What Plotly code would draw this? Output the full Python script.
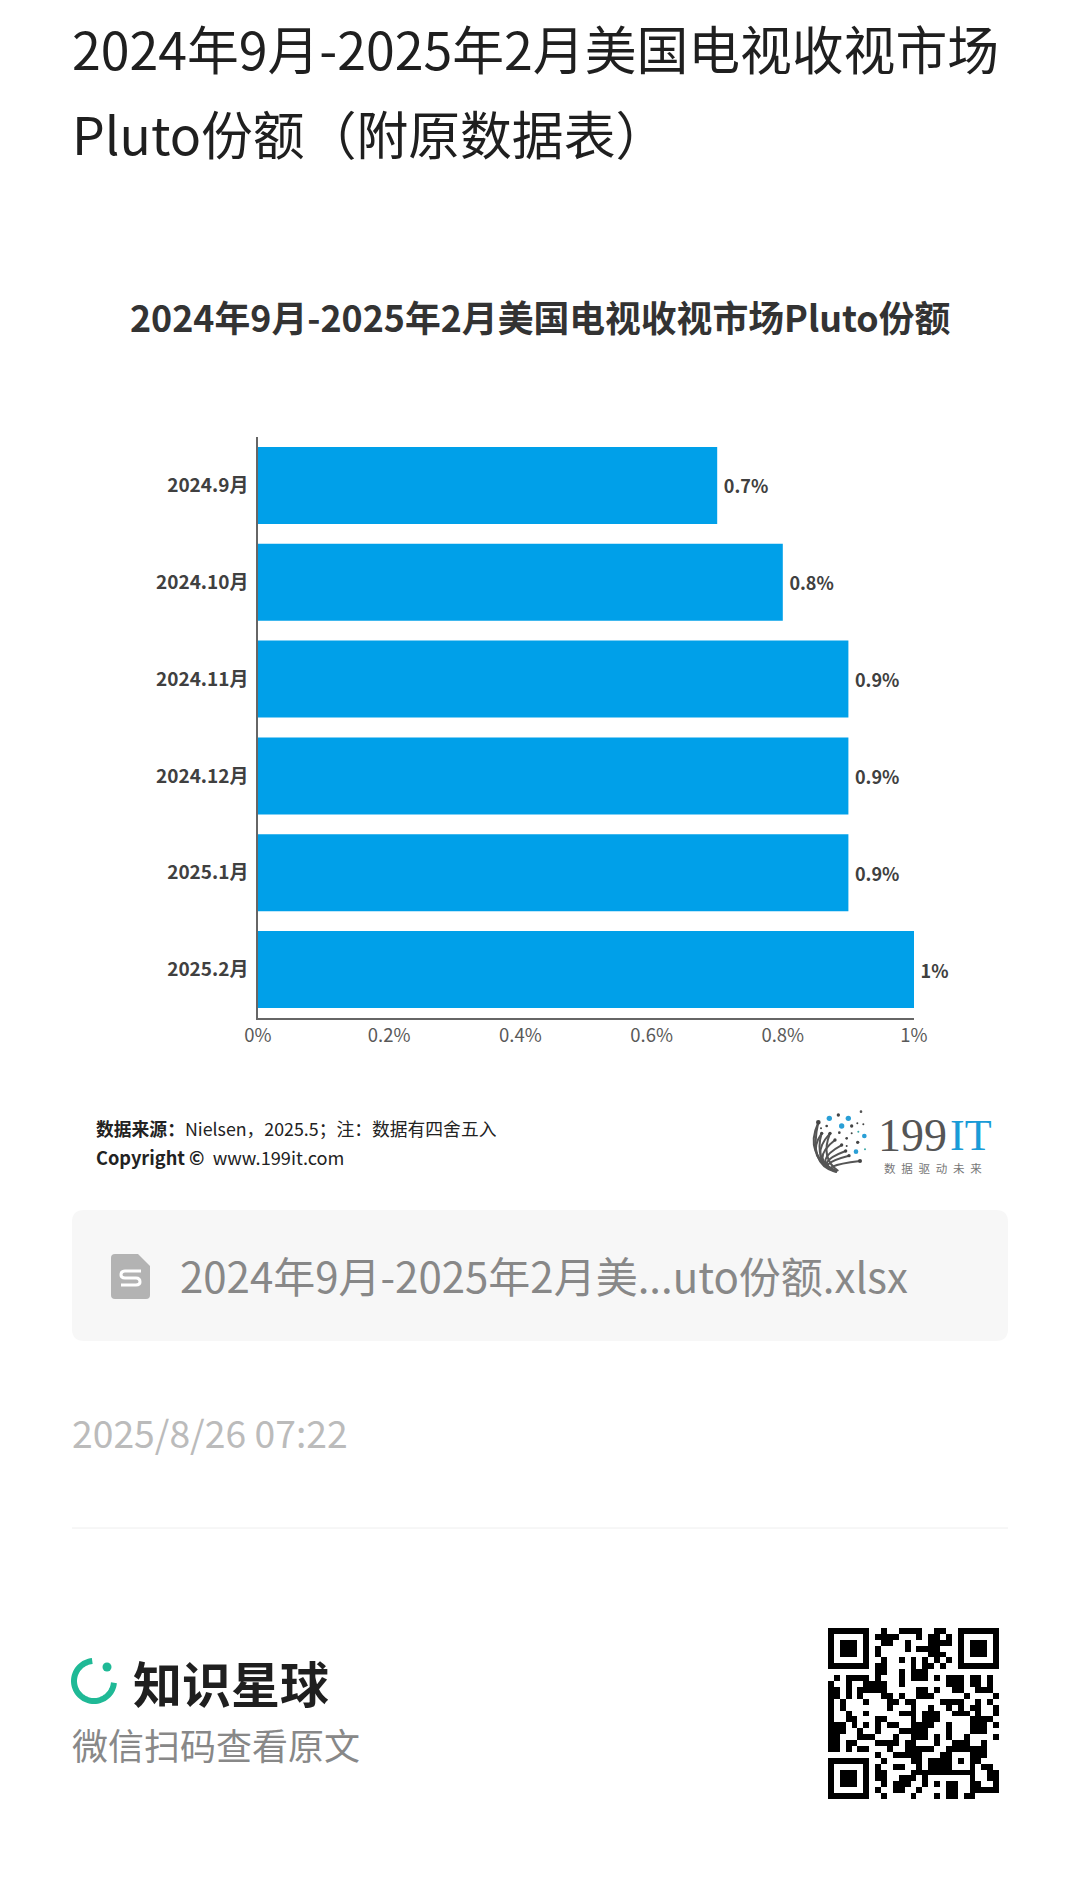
import math

import plotly.graph_objects as go

months = ['2024.9月', '2024.10月', '2024.11月', '2024.12月', '2025.1月', '2025.2月']
share = [0.7, 0.8, 0.9, 0.9, 0.9, 1]
x_ticks = [0, 0.2, 0.4, 0.6, 0.8, 1]
x_ticklabels = ['0%', '0.2%', '0.4%', '0.6%', '0.8%', '1%']
bar_labels = ['\u20090.7%', '\u20090.8%', '\u20090.9%', '\u20090.9%', '\u20090.9%', '\u20091%']

# QR code
qr_rows = [
    '11111110010011110011001111111',
    '10000010111100010110101000001',
    '1011101' + '001100100011110' + '1011101',
    '1011101' + '010000101111000' + '1011101',
    '1011101' + '010000000011100' + '1011101',
    '1000001' + '001001010101010' + '1000001',
    '1111111' + '011000010110100' + '1111111',
    '00000000110010111000000000000',
    '01011110100010111010111011010',
    '10010011110010000000111011010',
    '11010111110000011010011001110',
    '11010100011010011100000100001',
    '10100010001101100001111001010',
    '10100000001000100100101011001',
    '10010010000011101110011101001',
    '10011000110000101110000011110',
    '11101010101100111100100011101',
    '11100100100011111000100011100',
    '11000111000100111010100100001',
    '11011000111101100010011100100',
    '11010110001001111100111111100',
    '00000000100111110001100011100',
    '11111110010000110111101011000',
    '10000010100110010111100010110',
    '10111010110000111111111110011',
    '10111010110011101000000010011',
    '10111010010111001010110011001',
    '10000010100110010000110011111',
    '11111110010000100010110110000',
]
qr_matrix = [[int(c) for c in row] for row in qr_rows]

logo_dots = [
    (148, 85, 8, '#2a9fd6'), (175, 75, 5, '#444444'), (205, 85, 8, '#2a9fd6'), (243, 65, 4, '#555555'),
    (115, 97, 7, '#444444'), (140, 108, 4, '#444444'), (185, 108, 8, '#2a9fd6'), (215, 108, 5, '#444444'),
    (232, 100, 3, '#444444'), (250, 103, 3, '#444444'), (123, 115, 3, '#444444'), (178, 128, 4, '#444444'),
    (215, 130, 3, '#444444'), (235, 125, 3, '#3aa9a9'), (253, 138, 7, '#2a9fd6'), (200, 145, 4, '#444444'),
    (233, 157, 5, '#444444'), (200, 168, 3, '#444444'), (228, 185, 7, '#2a9fd6'), (255, 178, 3, '#3aa9a9'),
    (240, 213, 6, '#444444'), (125, 130, 5, '#444444'), (150, 130, 5, '#444444'), (165, 150, 5, '#444444'),
    (185, 165, 5, '#444444'), (197, 183, 5, '#444444'), (207, 197, 5, '#444444'),
]
logo_fronds = [(115, 97), (125, 130), (150, 130), (165, 150), (185, 165), (197, 183), (207, 197), (240, 213)]
# outer edge of the fan: start, control and end in the same crop
logo_edge = [
    (165, 245, 85, 225, 115, 97),
    (170, 245, 100, 215, 125, 130),
    (175, 243, 120, 205, 150, 130),
]

FONT = 'Noto Sans CJK SC'
W, H = 1080, 1898


def px(x):
    return x / W


def py(y):
    return 1 - y / H


def path(cmds):
    # cmds like [('M', 10, 20), ('Q', 1, 2, 3, 4)] in page pixels
    out = ''
    for c in cmds:
        out += c[0]
        vals = c[1:]
        out += ' '.join(f'{px(vals[i]):.5f},{py(vals[i + 1]):.5f}' for i in range(0, len(vals), 2))
    return out


def label(text, x, y, size, color, anchor='left', weight=None, family=FONT):
    font = dict(family=family, size=size, color=color)
    if weight:
        font['weight'] = weight
    return dict(text=text, x=px(x), y=py(y), xref='paper', yref='paper', showarrow=False,
                xanchor=anchor, yanchor='middle', font=font, align=anchor)


fig = go.Figure()

fig.add_trace(go.Bar(
    x=share, y=months,
    orientation='h',
    marker=dict(color='#00a0e9', line=dict(width=0)),
    text=bar_labels,
    textposition='outside',
    textfont=dict(family=FONT, size=18, color='#404040', weight=700),
    cliponaxis=False,
    hoverinfo='skip',
))

fig.add_trace(go.Heatmap(
    z=qr_matrix,
    xaxis='x2', yaxis='y2',
    colorscale=[[0, '#ffffff'], [1, '#000000']],
    zmin=0, zmax=1,
    showscale=False,
    hoverinfo='skip',
))

annotations = [
    label('2024年9月-2025年2月美国电视收视市场', 70, 47, 51.8, '#1f1f1f'),
    label('Pluto份额（附原数据表）', 70, 132, 51.8, '#1f1f1f'),
    label('2024年9月-2025年2月美国电视收视市场Pluto份额', 540, 316, 35.8, '#333333', anchor='center', weight=700),
    label('<b>数据来源：</b>Nielsen，2025.5；注：数据有四舍五入', 94, 1128, 17.8, '#222222'),
    label('<b>Copyright ©</b>  www.199it.com', 94, 1157, 18.2, '#222222'),
    label('199', 876, 1135, 46, '#555555', family='Liberation Serif'),
    label('IT', 948, 1135, 44, '#1a9bd7', family='Liberation Serif'),
    label('数\u2002据\u2002驱\u2002动\u2002未\u2002来', 882, 1168, 11.5, '#777777'),
    label('2024年9月-2025年2月美...uto份额.xlsx', 178, 1274, 42, '#888888'),
    label('2025/8/26 07:22', 70, 1432, 37.3, '#bbbbbb'),
    label('知识星球', 131, 1681, 49, '#1f1f1f', weight=700),
    label('微信扫码查看原文', 70, 1744, 36, '#888888'),
]

# file card
shapes = [dict(
    type='path', xref='paper', yref='paper', fillcolor='#f7f7f7', line=dict(width=0), layer='below',
    path=path([('M', 84, 1210), ('L', 996, 1210), ('Q', 1008, 1210, 1008, 1222), ('L', 1008, 1329),
               ('Q', 1008, 1341, 996, 1341), ('L', 84, 1341), ('Q', 72, 1341, 72, 1329), ('L', 72, 1222),
               ('Q', 72, 1210, 84, 1210)]) + 'Z',
)]
# file icon
shapes.append(dict(
    type='path', xref='paper', yref='paper', fillcolor='#b3b3b3', line=dict(width=0),
    path=path([('M', 115, 1254), ('L', 138, 1254), ('L', 150, 1266), ('L', 150, 1295),
               ('Q', 150, 1299, 146, 1299), ('L', 115, 1299), ('Q', 111, 1299, 111, 1295),
               ('L', 111, 1258), ('Q', 111, 1254, 115, 1254)]) + 'Z',
))
shapes.append(dict(
    type='path', xref='paper', yref='paper', line=dict(color='#ffffff', width=3),
    path=path([('M', 141, 1271), ('L', 125, 1271), ('Q', 121, 1271, 121, 1275), ('Q', 121, 1278, 125, 1278),
               ('L', 136, 1278), ('Q', 140, 1278, 140, 1282), ('Q', 140, 1285, 136, 1285), ('L', 121, 1285)]),
))
# divider
shapes.append(dict(type='line', xref='paper', yref='paper', x0=px(72), x1=px(1008), y0=py(1528), y1=py(1528),
                   line=dict(color='#eeeeee', width=1)))

# green ring of the planet logo
ring = []
for deg in range(95, 356, 5):
    a = math.radians(deg)
    ring.append(('M' if not ring else 'L', 94 + 20 * math.cos(a), 1681 - 20 * math.sin(a)))
shapes.append(dict(type='path', xref='paper', yref='paper', path=path(ring), line=dict(color='#1fb996', width=6)))
shapes.append(dict(type='circle', xref='paper', yref='paper', x0=px(102.5), x1=px(111.5), y0=py(1671.5), y1=py(1662.5),
                   fillcolor='#1fb996', line=dict(width=0)))

# 199IT logo, positions in the 3x crop of that corner
for fx, fy in logo_fronds:
    x1, y1 = 780 + fx / 3, 1090 + fy / 3
    shapes.append(dict(type='path', xref='paper', yref='paper', line=dict(color='#555555', width=2),
                       path=path([('M', 780 + 170 / 3, 1090 + 245 / 3),
                                  ('Q', 780 + (fx * 0.35 + 30) / 3, 1090 + (fy * 0.3 + 165) / 3, x1, y1)])))
for sx, sy, cx, cy, ex, ey in logo_edge:
    shapes.append(dict(type='path', xref='paper', yref='paper', line=dict(color='#555555', width=2),
                       path=path([('M', 780 + sx / 3, 1090 + sy / 3),
                                  ('Q', 780 + cx / 3, 1090 + cy / 3, 780 + ex / 3, 1090 + ey / 3)])))
for dx, dy, r, color in logo_dots:
    cx, cy = 780 + dx / 3, 1090 + dy / 3
    shapes.append(dict(type='circle', xref='paper', yref='paper', x0=px(cx - r / 3), x1=px(cx + r / 3),
                       y0=py(cy + r / 3), y1=py(cy - r / 3), fillcolor=color, line=dict(width=0)))

fig.update_layout(
    width=W, height=H,
    autosize=False,
    margin=dict(l=0, r=0, t=0, b=0),
    paper_bgcolor='#ffffff',
    plot_bgcolor='#ffffff',
    showlegend=False,
    bargap=0.205,
    xaxis=dict(
        domain=[px(258), px(914)],
        range=[0, 1],
        automargin=False,
        tickmode='array',
        tickvals=x_ticks,
        ticktext=x_ticklabels,
        tickfont=dict(family=FONT, size=18.5, color='#595959'),
        showgrid=False, zeroline=False,
        showline=True, linecolor='#666666', linewidth=1.5,
        ticks='',
        anchor='y',
    ),
    yaxis=dict(
        domain=[py(1018), py(437)],
        autorange='reversed',
        automargin=False,
        tickfont=dict(family=FONT, size=19, color='#404040', weight=700),
        ticklabelstandoff=4,
        showgrid=False, zeroline=False,
        showline=True, linecolor='#666666', linewidth=1.5,
        ticks='',
        anchor='x',
    ),
    xaxis2=dict(domain=[px(828), px(999)], anchor='y2', visible=False, automargin=False),
    yaxis2=dict(domain=[py(1799), py(1628)], anchor='x2', visible=False, autorange='reversed', automargin=False),
    annotations=annotations,
    shapes=shapes,
)

fig.write_html(
    'out.html',
    config=dict(displayModeBar=False),
    post_script="document.body.style.margin='0';document.body.style.overflow='hidden';",
)
